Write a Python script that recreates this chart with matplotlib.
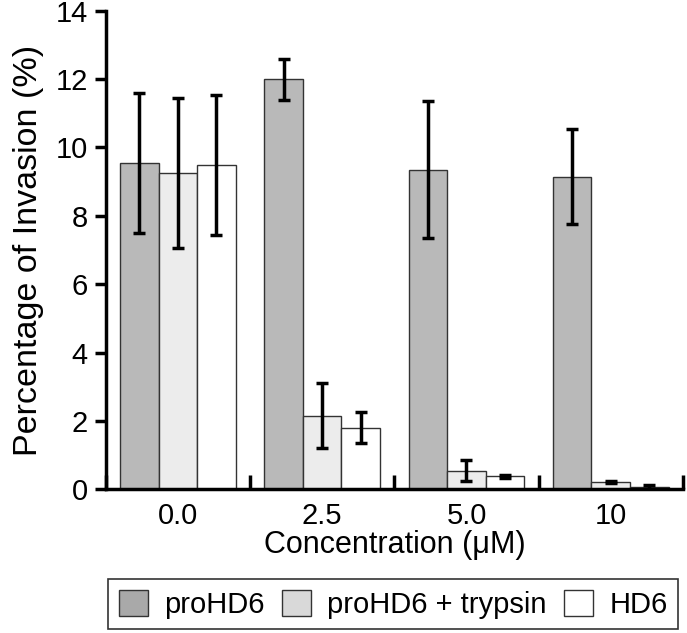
import numpy as np
import matplotlib
matplotlib.use('Agg')
import matplotlib.pyplot as plt

plt.rcParams['font.family'] = ['Liberation Sans', 'DejaVu Sans']

concentrations = ['0.0', '2.5', '5.0', '10']
series_names = ['proHD6', 'proHD6 + trypsin', 'HD6']
prohd6 = [9.55, 12.0, 9.35, 9.15]
prohd6_err = [2.05, 0.6, 2.0, 1.4]
trypsin = [9.25, 2.15, 0.55, 0.21]
trypsin_err = [2.2, 0.95, 0.3, 0.03]
hd6 = [9.5, 1.8, 0.38, 0.07]
hd6_err = [2.05, 0.45, 0.04, 0.05]

colors = ['#b9b9b9', '#ececec', '#ffffff']
legend_colors = ['#a9a9a9', '#d9d9d9', '#ffffff']
values = [prohd6, trypsin, hd6]
errors = [prohd6_err, trypsin_err, hd6_err]

fig = plt.figure(figsize=(6.87, 6.33), dpi=100)
ax = fig.add_axes([0.154, 0.227, 0.840, 0.756])

x = np.arange(len(concentrations))
width = 0.267
for i, (vals, errs, col, name) in enumerate(zip(values, errors, colors, series_names)):
    ax.bar(x + (i - 1) * width, vals, width, color=col, edgecolor='#333333',
           linewidth=1.0, label=name, zorder=2)
    ax.errorbar(x + (i - 1) * width, vals, yerr=errs, fmt='none', ecolor='black',
                elinewidth=2.5, capsize=4, capthick=2.5, zorder=3)

ax.set_xlim(-0.5, 3.5)
ax.set_ylim(0, 14)
ax.set_yticks(np.arange(0, 15, 2))
ax.set_xticks(x)
ax.set_xticklabels(concentrations)
ax.set_xticks(np.arange(-0.5, 3.6, 1.0), minor=True)
ax.tick_params(axis='x', which='major', length=0, labelsize=21, pad=9)
ax.tick_params(axis='x', which='minor', direction='in', length=10, width=2.5)
ax.tick_params(axis='y', direction='out', length=8, width=2.5, labelsize=21, pad=5)

for side in ['top', 'right']:
    ax.spines[side].set_visible(False)
for side in ['left', 'bottom']:
    ax.spines[side].set_linewidth(2.5)

ax.set_xlabel('Concentration (\u03bcM)', fontsize=22, labelpad=0)
ax.set_ylabel('Percentage of Invasion (%)', fontsize=24.5, labelpad=8)

leg = fig.legend(loc='center', bbox_to_anchor=(0.572, 0.0455), ncol=3,
                 fontsize=21, frameon=True, fancybox=False, edgecolor='black',
                 handlelength=1.0, handleheight=1.0, handletextpad=0.55,
                 borderaxespad=0, borderpad=0.35, columnspacing=0.6)
leg.get_frame().set_linewidth(1.2)
for patch, col in zip(leg.legend_handles, legend_colors):
    patch.set_facecolor(col)

fig.savefig('out.png', dpi=100)
